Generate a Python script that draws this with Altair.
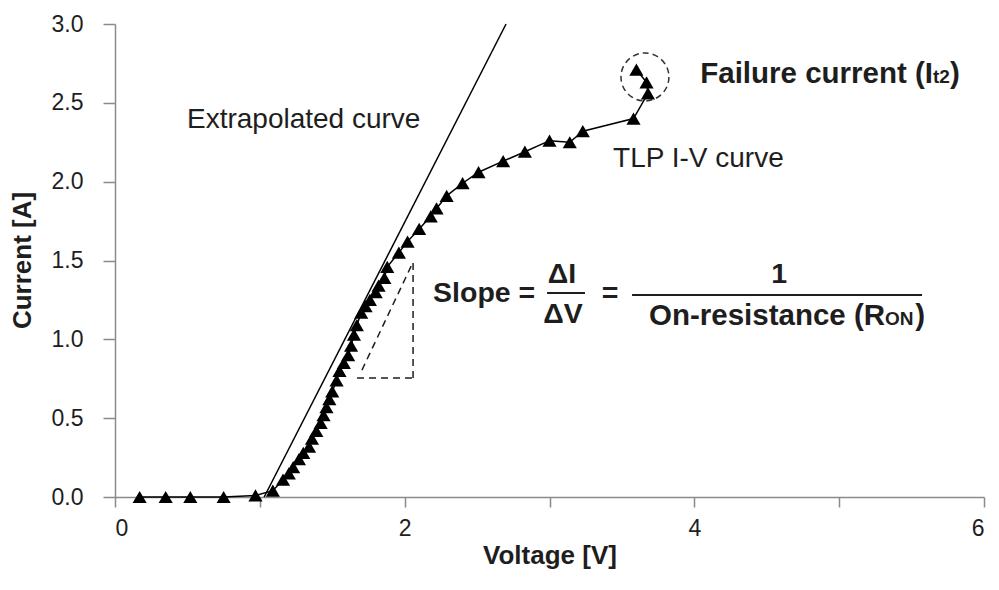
import altair as alt
import pandas as pd

# ---------------- data ----------------
volt = [0.17, 0.35, 0.52, 0.75, 0.97,
        1.09, 1.16, 1.20, 1.23, 1.27, 1.30, 1.34, 1.36, 1.39, 1.42,
        1.44, 1.46, 1.48, 1.50, 1.53, 1.55, 1.58, 1.61, 1.63, 1.65,
        1.67, 1.70, 1.73, 1.76, 1.80, 1.82, 1.86, 1.88, 1.96, 2.02,
        2.10, 2.18, 2.22, 2.29, 2.40, 2.51, 2.68, 2.83, 3.00, 3.14,
        3.23, 3.58, 3.68, 3.67, 3.60]
curr = [0.00, 0.00, 0.00, 0.00, 0.01,
        0.04, 0.11, 0.15, 0.19, 0.24, 0.28, 0.32, 0.37, 0.42, 0.47,
        0.52, 0.57, 0.62, 0.67, 0.74, 0.80, 0.85, 0.90, 0.96, 1.03,
        1.09, 1.17, 1.21, 1.25, 1.30, 1.34, 1.39, 1.46, 1.55, 1.62,
        1.70, 1.78, 1.83, 1.91, 1.99, 2.06, 2.13, 2.19, 2.26, 2.25,
        2.32, 2.40, 2.56, 2.63, 2.71]

extrap_v = [1.03, 2.70]
extrap_i = [0.00, 3.00]

x_ticks = [0, 1, 2, 3, 4, 5, 6]
y_ticks = [0.0, 0.5, 1.0, 1.5, 2.0, 2.5, 3.0]

FONT = "Liberation Sans, Arial, Helvetica, sans-serif"
INK = "#1e1e1e"
AXC = "#8a8a8a"

xs = alt.Scale(domain=[0, 6], nice=False, zero=False)
ys = alt.Scale(domain=[0, 3], nice=False, zero=False)

x_axis = alt.Axis(values=x_ticks, labelExpr="datum.value % 2 == 0 ? datum.label : ''",
                  title="Voltage [V]", grid=False, domainColor=AXC, tickColor=AXC,
                  domainWidth=1.5, tickWidth=1.5, tickSize=10, labelPadding=10,
                  labelFont=FONT, labelFontSize=23, labelColor=INK,
                  titleFont=FONT, titleFontSize=26, titleFontWeight="bold", titleColor=INK,
                  titleX=434.5, titleY=66, titleBaseline="alphabetic", titleAlign="center")
y_axis = alt.Axis(values=y_ticks, format=".1f", title="Current  [A]", grid=False,
                  domainColor=AXC, tickColor=AXC, domainWidth=1.5, tickWidth=1.5,
                  tickSize=12, labelPadding=20, labelFont=FONT, labelFontSize=23,
                  labelColor=INK, titleFont=FONT, titleFontSize=26, titleFontWeight="bold",
                  titleColor=INK, titleAngle=270, titleX=-93, titleY=236,
                  titleBaseline="middle", titleAlign="center")


def X(f):
    return alt.X(f, scale=xs, axis=x_axis)


def Y(f):
    return alt.Y(f, scale=ys, axis=y_axis)


df = pd.DataFrame({"V": volt, "I": curr, "k": list(range(len(volt)))})
ex = pd.DataFrame({"V": extrap_v, "I": extrap_i})

curve = alt.Chart(df).mark_line(color="black", strokeWidth=1.5).encode(
    x=X("V:Q"), y=Y("I:Q"), order="k:Q")
pts = alt.Chart(df).mark_point(shape="triangle-up", filled=True, size=200,
                               color="black", opacity=1).encode(x=X("V:Q"), y=Y("I:Q"))
extra = alt.Chart(ex).mark_line(color="black", strokeWidth=1.5).encode(x=X("V:Q"), y=Y("I:Q"))

# dashed slope triangle (annotation geometry, data units)
tri = pd.DataFrame({"V": [1.671, 2.058, 1.705], "V2": [2.058, 2.058, 2.058],
                    "I": [0.755, 0.755, 0.805], "I2": [0.755, 1.49, 1.49]})
tri_l = alt.Chart(tri).mark_rule(color=INK, strokeWidth=1.5, strokeDash=[7, 5]).encode(
    x=X("V:Q"), x2="V2:Q", y=Y("I:Q"), y2="I2:Q")

# dashed circle around failure point
circ = pd.DataFrame({"V": [3.659], "I": [2.664]})
circ_l = alt.Chart(circ).mark_point(shape="circle", size=2300, filled=False, color="#333",
                                    strokeWidth=1.5, strokeDash=[6, 4], opacity=1).encode(
    x=X("V:Q"), y=Y("I:Q"))

# fraction bars
bars = pd.DataFrame({"V": [2.983, 3.570], "V2": [3.245, 5.572], "I": [1.294, 1.281]})
bars_l = alt.Chart(bars).mark_rule(color=INK, strokeWidth=2).encode(
    x=X("V:Q"), x2="V2:Q", y=Y("I:Q"))


def texts(rows, size, weight, align):
    d = pd.DataFrame(rows, columns=["t", "V", "I"])
    return alt.Chart(d).mark_text(font=FONT, fontSize=size, fontWeight=weight, align=align,
                                  baseline="alphabetic", color=INK).encode(
        x=X("V:Q"), y=Y("I:Q"), text="t:N")


t_reg = texts([["Extrapolated curve", 0.497, 2.340],
               ["TLP I-V  curve", 3.439, 2.093]], 28, "normal", "left")
t_bold_left = texts([["Slope =", 2.196, 1.237]], 28.5, "bold", "left")
t_paren = texts([[")", 5.766, 2.626],
                 [")", 5.525, 1.091]], 29.5, "bold", "left")
t_bold_right = texts([["Failure current (I", 5.648, 2.626],
                      ["On-resistance (R", 5.317, 1.091]], 29.5, "bold", "right")
t_bold_center = texts([["\u0394I", 3.086, 1.357],
                       ["\u0394V", 3.093, 1.104],
                       ["=", 3.418, 1.237],
                       ["1", 4.585, 1.357]], 28.5, "bold", "center")
t_small = texts([["t2", 5.648, 2.626],
                 ["ON", 5.317, 1.091]], 19, "bold", "left")

chart = alt.layer(curve, extra, tri_l, circ_l, pts, bars_l,
                  t_reg, t_bold_left, t_paren, t_bold_right, t_bold_center, t_small).properties(
    width=869, height=473,
    autosize=alt.AutoSizeParams(type="none"),
    padding={"left": 115, "top": 24, "right": 15, "bottom": 93},
    background="white"
).configure_view(stroke=None)

chart.save("out.html", embed_options={"renderer": "svg", "actions": False})
